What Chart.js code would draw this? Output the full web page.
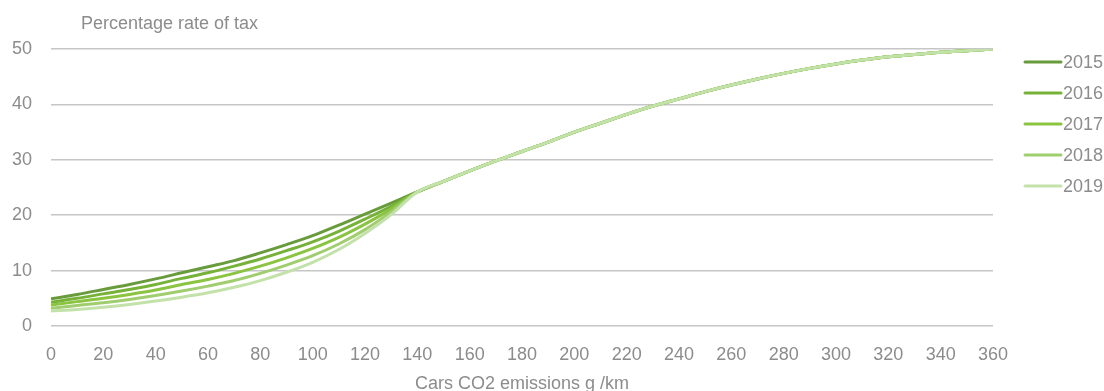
<!DOCTYPE html>
<html>
<head>
<meta charset="utf-8">
<script src="https://cdn.jsdelivr.net/npm/chart.js@4.4.1/dist/chart.umd.min.js"></script>
<style>
  html, body { margin: 0; padding: 0; background: #fff; }
  #wrap { width: 1104px; height: 391px; position: relative; }
</style>
</head>
<body>
<div id="wrap"><canvas id="chartTax"></canvas></div>
<script>
  // emissoes de CO2 (g/km) e taxa percentual por ano
  var emissions = [0, 10, 20, 30, 40, 50, 60, 70, 80, 90, 100, 110, 120, 130, 140, 150, 160, 170, 180,
    190, 200, 210, 220, 230, 240, 250, 260, 270, 280, 290, 300, 310, 320, 330, 340, 350, 360];
  var commonTail = [26.1, 28.0, 29.8, 31.5, 33.2, 35.0, 36.6, 38.2, 39.7, 41.0, 42.3, 43.5,
    44.6, 45.6, 46.5, 47.3, 48.0, 48.6, 49.0, 49.4, 49.7, 50.0];
  var rate2015 = [4.9, 5.7, 6.6, 7.5, 8.5, 9.6, 10.7, 11.8, 13.2, 14.7, 16.3, 18.2, 20.2, 22.2, 24.2];
  var rate2016 = [4.3, 5.0, 5.8, 6.6, 7.5, 8.6, 9.6, 10.8, 12.1, 13.6, 15.2, 17.1, 19.3, 21.6, 24.2];
  var rate2017 = [3.8, 4.4, 5.0, 5.7, 6.5, 7.5, 8.4, 9.5, 10.8, 12.3, 14.0, 16.0, 18.4, 21.1, 24.2];
  var rate2018 = [3.2, 3.7, 4.2, 4.8, 5.5, 6.3, 7.2, 8.2, 9.5, 11.0, 12.7, 14.8, 17.4, 20.6, 24.2];
  var rate2019 = [2.7, 3.0, 3.4, 3.9, 4.5, 5.2, 6.0, 7.0, 8.2, 9.7, 11.5, 13.8, 16.7, 20.1, 24.2];
  var years = ['2015', '2016', '2017', '2018', '2019'];
  var colors = ['#689b3c', '#76b238', '#8ac440', '#a0cd6e', '#c3e2aa'];
  var yTicks = [0, 10, 20, 30, 40, 50];

  var textColor = '#8c8c8c';
  var fontFamily = '"Liberation Sans", Arial, sans-serif';

  function toPoints(values) {
    var all = values.concat(commonTail);
    return emissions.map(function (x, i) { return { x: x, y: all[i] }; });
  }

  var allRates = [rate2015, rate2016, rate2017, rate2018, rate2019];
  var datasets = years.map(function (yr, i) {
    return {
      label: yr,
      data: toPoints(allRates[i]),
      borderColor: colors[i],
      backgroundColor: colors[i],
      borderWidth: 3,
      pointRadius: 0,
      fill: false,
      cubicInterpolationMode: 'monotone',
      order: years.length - i // 2019 fica por cima
    };
  });

  // titulo do eixo y no canto e legenda desenhada a mao
  var extrasPlugin = {
    id: 'extras',
    afterDraw: function (chart) {
      var c = chart.ctx;
      var area = chart.chartArea;
      c.save();
      c.fillStyle = textColor;
      c.font = '18px ' + fontFamily;
      c.textBaseline = 'middle';
      c.textAlign = 'left';
      c.fillText('Percentage rate of tax', area.left + 30, 24);
      chart.data.datasets.forEach(function (ds, i) {
        var y = 62 + i * 31;
        c.strokeStyle = ds.borderColor;
        c.lineWidth = 3;
        c.lineCap = 'round';
        c.beginPath();
        c.moveTo(area.right + 32, y);
        c.lineTo(area.right + 68, y);
        c.stroke();
        c.fillText(ds.label, area.right + 70, y + 1);
      });
      c.restore();
    }
  };

  var ctxTax = document.getElementById('chartTax').getContext('2d');
  var configTax = {
    type: 'line',
    data: { datasets: datasets },
    options: {
      responsive: true,
      maintainAspectRatio: false,
      animation: false,
      layout: { padding: { left: 0, right: 111, top: 49, bottom: 0 } },
      plugins: {
        legend: { display: false },
        tooltip: { enabled: false }
      },
      scales: {
        x: {
          type: 'linear',
          min: 0,
          max: 360,
          afterFit: function (scale) { scale.height = 65; },
          grid: { display: false, drawTicks: false },
          border: { display: false },
          ticks: {
            stepSize: 20,
            padding: 18,
            color: textColor,
            font: { family: fontFamily, size: 18 },
            maxRotation: 0
          },
          title: {
            display: true,
            text: 'Cars CO2 emissions g /km',
            color: textColor,
            font: { family: fontFamily, size: 18 },
            padding: { top: 0, bottom: -4 }
          }
        },
        y: {
          min: 0,
          max: 50,
          afterFit: function (scale) { scale.width = 51; },
          afterBuildTicks: function (scale) {
            scale.ticks = yTicks.map(function (v) { return { value: v }; });
          },
          grid: { color: '#c6c6c6', lineWidth: 1.5, drawTicks: false },
          border: { display: false },
          ticks: {
            padding: 19,
            color: textColor,
            font: { family: fontFamily, size: 18 }
          }
        }
      }
    },
    plugins: [extrasPlugin]
  };
  var chartTax = new Chart(ctxTax, configTax);
</script>
</body>
</html>
